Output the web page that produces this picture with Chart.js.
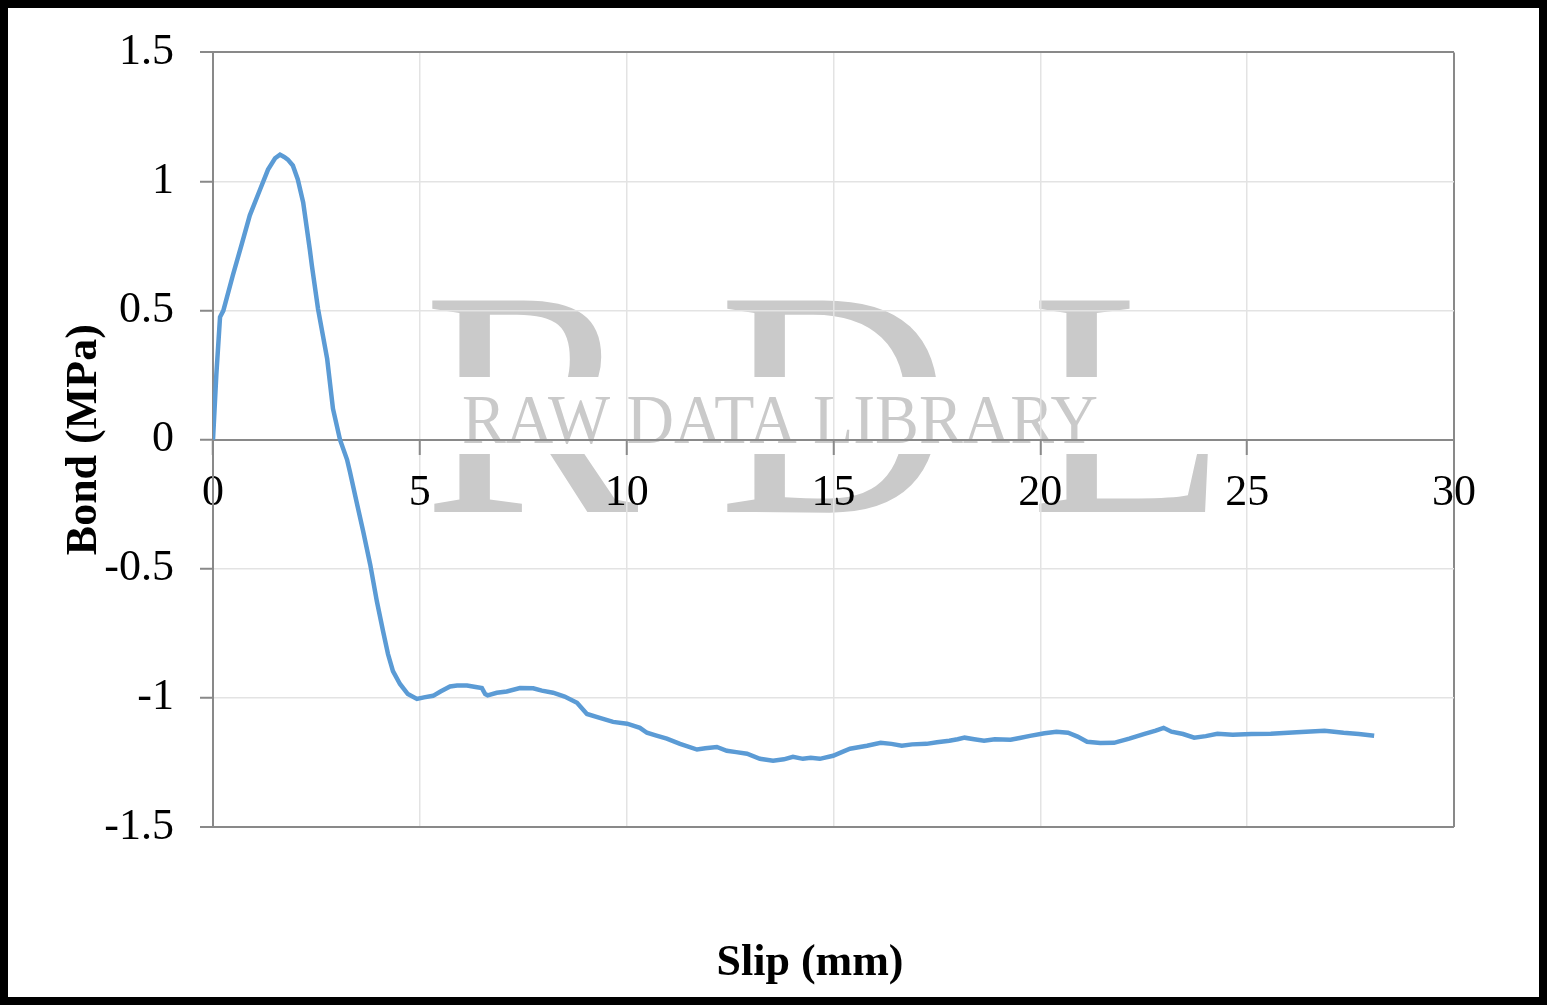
<!DOCTYPE html>
<html>
<head>
<meta charset="utf-8">
<title>Bond vs Slip</title>
<script src="https://cdn.jsdelivr.net/npm/chart.js@4.4.0/dist/chart.umd.min.js"></script>
<style>
  body { margin: 0; background: #fff; }
  #wrap { position: relative; width: 1547px; height: 1005px; }
  #chart { position: absolute; left: 0; top: 0; }
  #frame {
    position: absolute; left: 0; top: 0; width: 1547px; height: 1005px;
    box-sizing: border-box; border: 8px solid #000; pointer-events: none;
  }
</style>
</head>
<body>
<div id="wrap">
  <canvas id="chart" width="1547" height="1005"></canvas>
  <div id="frame"></div>
</div>
<script>
// slip (mm)
const slip = [
  0, 0.08, 0.17, 0.25, 0.48, 0.70, 0.89, 1.14, 1.33, 1.50,
  1.62, 1.72, 1.81, 1.93, 2.05, 2.18, 2.34, 2.39, 2.54, 2.76,
  2.90, 3.07, 3.24, 3.31, 3.47, 3.63, 3.80, 3.96, 4.11, 4.23,
  4.35, 4.52, 4.71, 4.93, 5.10, 5.32, 5.50, 5.73, 5.90, 6.14,
  6.35, 6.50, 6.58, 6.64, 6.86, 7.10, 7.42, 7.74, 7.95, 8.22,
  8.50, 8.80, 9.04, 9.35, 9.67, 10.01, 10.32, 10.49, 10.70, 10.97,
  11.29, 11.70, 11.90, 12.18, 12.42, 12.65, 12.91, 13.22, 13.54, 13.80,
  14.02, 14.26, 14.45, 14.67, 14.99, 15.20, 15.40, 15.81, 16.14, 16.40,
  16.65, 16.90, 17.25, 17.50, 17.80, 18.00, 18.17, 18.40, 18.64, 18.90,
  19.28, 19.50, 19.75, 20.10, 20.39, 20.67, 20.90, 21.13, 21.45, 21.78,
  22.15, 22.50, 22.79, 22.98, 23.17, 23.45, 23.72, 24.00, 24.28, 24.65,
  25.10, 25.57, 26.20, 26.87, 27.33, 27.70, 28.07
];
// bond stress (MPa)
const bond = [
  0, 0.25, 0.475, 0.50, 0.637, 0.76, 0.869, 0.97, 1.046, 1.09,
  1.104, 1.095, 1.085, 1.062, 1.008, 0.919, 0.737, 0.675, 0.506, 0.313,
  0.12, 0.0, -0.077, -0.124, -0.24, -0.355, -0.483, -0.625, -0.741, -0.83,
  -0.896, -0.946, -0.985, -1.004, -0.998, -0.992, -0.975, -0.956, -0.952, -0.952,
  -0.958, -0.962, -0.985, -0.99, -0.98, -0.975, -0.962, -0.963, -0.972, -0.98,
  -0.995, -1.019, -1.062, -1.077, -1.093, -1.10, -1.116, -1.135, -1.145, -1.158,
  -1.178, -1.20, -1.195, -1.19, -1.205, -1.21, -1.216, -1.236, -1.243, -1.238,
  -1.228, -1.236, -1.232, -1.236, -1.224, -1.21, -1.197, -1.185, -1.174, -1.178,
  -1.185, -1.18, -1.178, -1.172, -1.166, -1.16, -1.154, -1.16, -1.166, -1.16,
  -1.162, -1.155, -1.147, -1.137, -1.131, -1.135, -1.15, -1.17, -1.175, -1.174,
  -1.158, -1.14, -1.127, -1.116, -1.131, -1.14, -1.154, -1.148, -1.139, -1.143,
  -1.14, -1.139, -1.133, -1.127, -1.135, -1.14, -1.147
];

const xTicks = [0, 5, 10, 15, 20, 25, 30];
const yTicks = [-1.5, -1, -0.5, 0, 0.5, 1, 1.5];
const xTitle = 'Slip (mm)';
const yTitle = 'Bond (MPa)';

const serif = "'Liberation Serif', 'Times New Roman', serif";
const axisGrey = '#898989';
const gridGrey = '#e3e3e3';

const points = slip.map((s, i) => ({ x: s, y: bond[i] }));

// faint "RDL / RAW DATA LIBRARY" mark behind the grid
const watermark = {
  id: 'watermark',
  beforeDraw(chart) {
    const ctx = chart.ctx;
    ctx.save();
    ctx.fillStyle = '#cacaca';
    ctx.textBaseline = 'alphabetic';
    ctx.textAlign = 'left';
    ctx.font = '323px ' + serif;
    ctx.fillText('R', 423, 512);
    ctx.fillText('D', 718, 512);
    ctx.fillText('L', 1030, 512);
    // the big letters are cut by a blank band holding the small text
    ctx.fillStyle = '#fff';
    ctx.fillRect(415, 377, 820, 77);
    ctx.fillStyle = '#cacaca';
    ctx.font = '70px ' + serif;
    ctx.fillText('RAW DATA LIBRARY', 462, 443, 636);
    ctx.restore();
  }
};

// x title sits at the bottom of the frame, not by the axis at y = 0
const bottomTitle = {
  id: 'bottomTitle',
  afterDraw(chart) {
    const ctx = chart.ctx;
    ctx.save();
    ctx.fillStyle = '#000';
    ctx.font = 'bold 44px ' + serif;
    ctx.textAlign = 'center';
    ctx.textBaseline = 'alphabetic';
    ctx.fillText(xTitle, 810, 975);
    ctx.restore();
  }
};

new Chart(document.getElementById('chart'), {
  type: 'line',
  data: {
    datasets: [{
      data: points,
      borderColor: '#5b9bd5',
      borderWidth: 4.5,
      pointRadius: 0,
      tension: 0,
      fill: false
    }]
  },
  options: {
    responsive: false,
    animation: false,
    layout: { padding: { left: 0, top: 50, right: 93, bottom: 178 } },
    plugins: {
      legend: { display: false },
      tooltip: { enabled: false }
    },
    scales: {
      x: {
        type: 'linear',
        position: { y: 0 },
        min: 0,
        max: 30,
        afterBuildTicks: (scale) => { scale.ticks = xTicks.map(v => ({ value: v })); },
        ticks: {
          color: '#000',
          font: { family: serif, size: 44 },
          padding: 13,
          maxRotation: 0,
          callback: (v) => String(v)
        },
        grid: {
          color: (c) => (c.tick && c.tick.value === 30 ? axisGrey : gridGrey),
          lineWidth: (c) => (c.tick && c.tick.value === 30 ? 2 : 1.5),
          tickColor: axisGrey,
          tickLength: 14,
          tickWidth: 2
        },
        border: { color: axisGrey, width: 2 }
      },
      y: {
        type: 'linear',
        position: 'left',
        min: -1.5,
        max: 1.5,
        afterBuildTicks: (scale) => { scale.ticks = yTicks.map(v => ({ value: v })); },
        afterFit: (scale) => { scale.width = 213; },
        ticks: {
          color: '#000',
          font: { family: serif, size: 44 },
          padding: 26,
          callback: (v) => String(v)
        },
        grid: {
          color: (c) => (c.tick && Math.abs(c.tick.value) === 1.5 ? axisGrey : gridGrey),
          lineWidth: (c) => (c.tick && Math.abs(c.tick.value) === 1.5 ? 2 : 1.5),
          tickColor: axisGrey,
          tickLength: 13,
          tickWidth: 2
        },
        border: { color: axisGrey, width: 2 },
        title: {
          display: true,
          text: yTitle,
          color: '#000',
          font: { family: serif, size: 44, weight: 'bold' },
          padding: { top: 58, bottom: 0 }
        }
      }
    }
  },
  plugins: [watermark, bottomTitle]
});
</script>
</body>
</html>
